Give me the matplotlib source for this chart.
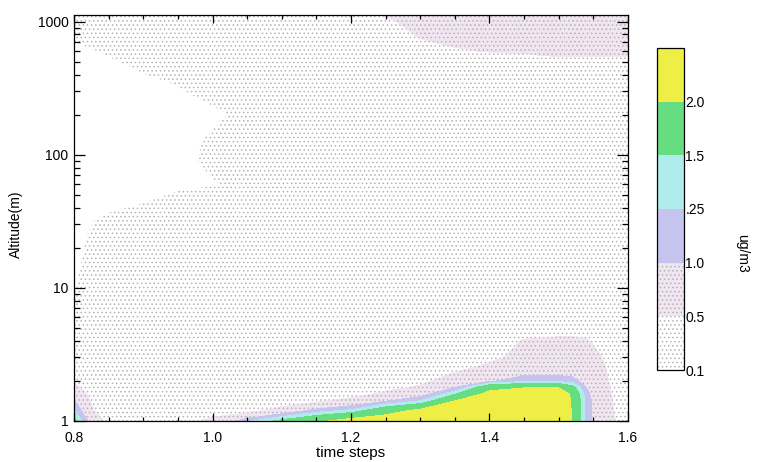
import numpy as np
import matplotlib
matplotlib.use("Agg")
import matplotlib.pyplot as plt
from matplotlib.ticker import FixedLocator, FixedFormatter, MultipleLocator, LogLocator, NullFormatter

plt.rcParams['font.family'] = ['Liberation Sans', 'DejaVu Sans']
plt.rcParams['hatch.color'] = '#b4b4b4'
plt.rcParams['hatch.linewidth'] = 0.6

# grid
time_steps = [0.80, 0.83, 0.86, 0.90, 0.95, 1.00, 1.05, 1.10, 1.15, 1.20, 1.25,
              1.30, 1.35, 1.40, 1.45, 1.50, 1.52, 1.54, 1.56, 1.58, 1.60]
altitude = [1.0, 1.2, 1.4, 1.6, 1.8, 2.0, 2.5, 3.0, 4.0, 5.0, 7.0, 10, 15, 25,
            40, 60, 90, 130, 200, 300, 450, 600, 800, 1000, 1120]

# one vertical profile (ug/m3) per time step, bottom to top
c_080 = [1.60, 1.27, 1.05, 0.85, 0.60, 0.45, 0.30, 0.25, 0.25, 0.24, 0.18, 0.08, 0.05, 0.05, 0.05, 0.05, 0.05, 0.05, 0.05, 0.05, 0.05, 0.05, 0.15, 0.22, 0.25]
c_083 = [0.70, 0.48, 0.35, 0.28, 0.25, 0.25, 0.25, 0.25, 0.25, 0.25, 0.25, 0.25, 0.20, 0.13, 0.07, 0.05, 0.05, 0.05, 0.05, 0.05, 0.05, 0.095, 0.20, 0.25, 0.28]
c_086 = [0.25, 0.25, 0.25, 0.25, 0.25, 0.25, 0.25, 0.25, 0.25, 0.25, 0.25, 0.25, 0.24, 0.20, 0.09, 0.05, 0.05, 0.05, 0.05, 0.05, 0.07, 0.14, 0.22, 0.25, 0.28]
c_090 = [0.25, 0.25, 0.25, 0.25, 0.25, 0.25, 0.25, 0.25, 0.25, 0.25, 0.25, 0.25, 0.25, 0.25, 0.11, 0.05, 0.05, 0.05, 0.05, 0.05, 0.12, 0.20, 0.25, 0.26, 0.28]
c_095 = [0.35, 0.25, 0.25, 0.25, 0.25, 0.25, 0.25, 0.25, 0.25, 0.25, 0.25, 0.25, 0.25, 0.25, 0.16, 0.07, 0.05, 0.05, 0.05, 0.08, 0.18, 0.24, 0.26, 0.27, 0.30]
c_100 = [0.60, 0.30, 0.25, 0.25, 0.25, 0.25, 0.25, 0.25, 0.25, 0.25, 0.25, 0.25, 0.25, 0.25, 0.20, 0.09, 0.14, 0.12, 0.06, 0.18, 0.24, 0.26, 0.28, 0.30, 0.32]
c_105 = [1.20, 0.30, 0.25, 0.25, 0.25, 0.25, 0.25, 0.25, 0.25, 0.25, 0.25, 0.25, 0.25, 0.25, 0.25, 0.15, 0.20, 0.20, 0.15, 0.25, 0.26, 0.28, 0.30, 0.33, 0.35]
c_110 = [1.60, 0.70, 0.20, 0.25, 0.25, 0.25, 0.25, 0.25, 0.25, 0.25, 0.25, 0.25, 0.25, 0.25, 0.25, 0.25, 0.25, 0.25, 0.25, 0.25, 0.26, 0.29, 0.32, 0.35, 0.37]
c_115 = [1.90, 1.10, 0.45, 0.25, 0.25, 0.25, 0.25, 0.25, 0.25, 0.25, 0.25, 0.25, 0.25, 0.25, 0.25, 0.25, 0.25, 0.25, 0.25, 0.25, 0.27, 0.30, 0.33, 0.37, 0.40]
c_120 = [2.20, 1.30, 0.70, 0.30, 0.25, 0.25, 0.25, 0.25, 0.25, 0.25, 0.25, 0.25, 0.25, 0.25, 0.25, 0.25, 0.25, 0.25, 0.25, 0.25, 0.27, 0.30, 0.35, 0.38, 0.42]
c_125 = [2.25, 1.80, 1.02, 0.60, 0.35, 0.28, 0.25, 0.25, 0.25, 0.25, 0.25, 0.25, 0.25, 0.25, 0.25, 0.25, 0.25, 0.25, 0.25, 0.25, 0.28, 0.33, 0.38, 0.45, 0.52]
c_130 = [2.30, 2.10, 1.30, 0.80, 0.55, 0.40, 0.30, 0.26, 0.25, 0.25, 0.25, 0.25, 0.25, 0.25, 0.25, 0.25, 0.25, 0.25, 0.25, 0.25, 0.30, 0.42, 0.53, 0.60, 0.65]
c_135 = [2.35, 2.25, 2.05, 1.45, 0.95, 0.70, 0.40, 0.30, 0.26, 0.25, 0.25, 0.25, 0.25, 0.25, 0.25, 0.25, 0.25, 0.25, 0.25, 0.25, 0.35, 0.48, 0.58, 0.65, 0.70]
c_140 = [2.40, 2.35, 2.30, 2.15, 1.80, 0.95, 0.60, 0.40, 0.30, 0.26, 0.25, 0.25, 0.25, 0.25, 0.25, 0.25, 0.25, 0.25, 0.25, 0.25, 0.35, 0.51, 0.60, 0.67, 0.72]
c_145 = [2.40, 2.40, 2.35, 2.30, 1.95, 1.15, 0.75, 0.65, 0.52, 0.35, 0.28, 0.25, 0.25, 0.25, 0.25, 0.25, 0.25, 0.25, 0.25, 0.25, 0.33, 0.54, 0.62, 0.68, 0.72]
c_150 = [2.40, 2.40, 2.35, 2.30, 1.95, 1.15, 0.75, 0.65, 0.55, 0.38, 0.28, 0.25, 0.25, 0.25, 0.25, 0.25, 0.25, 0.25, 0.25, 0.25, 0.33, 0.60, 0.65, 0.70, 0.72]
c_152 = [1.95, 1.95, 1.95, 1.90, 1.60, 1.10, 0.75, 0.65, 0.55, 0.38, 0.28, 0.25, 0.25, 0.25, 0.25, 0.25, 0.25, 0.25, 0.25, 0.25, 0.33, 0.60, 0.65, 0.70, 0.72]
c_154 = [1.15, 1.15, 1.15, 1.10, 0.98, 0.85, 0.70, 0.62, 0.53, 0.36, 0.27, 0.25, 0.25, 0.25, 0.25, 0.25, 0.25, 0.25, 0.25, 0.25, 0.33, 0.60, 0.65, 0.70, 0.72]
c_156 = [0.70, 0.70, 0.70, 0.68, 0.65, 0.62, 0.58, 0.52, 0.40, 0.30, 0.25, 0.25, 0.25, 0.25, 0.25, 0.25, 0.25, 0.25, 0.25, 0.25, 0.33, 0.60, 0.65, 0.70, 0.72]
c_158 = [0.52, 0.49, 0.48, 0.46, 0.44, 0.42, 0.38, 0.34, 0.30, 0.27, 0.25, 0.25, 0.25, 0.25, 0.25, 0.25, 0.25, 0.25, 0.25, 0.25, 0.33, 0.60, 0.65, 0.70, 0.72]
c_160 = [0.30, 0.28, 0.27, 0.26, 0.25, 0.25, 0.25, 0.25, 0.25, 0.25, 0.25, 0.25, 0.25, 0.25, 0.25, 0.25, 0.25, 0.25, 0.25, 0.25, 0.33, 0.60, 0.65, 0.70, 0.72]

profiles = [c_080, c_083, c_086, c_090, c_095, c_100, c_105, c_110, c_115, c_120, c_125,
            c_130, c_135, c_140, c_145, c_150, c_152, c_154, c_156, c_158, c_160]
conc = np.array(profiles).T

levels = [0.1, 0.5, 1.0, 1.25, 1.5, 2.0, 2.5]
level_labels = ['0.1', '0.5', '1.0', '.25', '1.5', '2.0', '']
band_colors = ['#ffffff', '#f2e5f2', '#c4c4ee', '#b0ecec', '#66dd80', '#eeee44']
band_hatches = ['....', '....', None, None, None, None]

fig = plt.figure(figsize=(7.61, 4.62), dpi=100)
ax = fig.add_axes([74 / 761, 41 / 462, 554 / 761, 406 / 462])

cs = ax.contourf(time_steps, altitude, conc, levels=levels,
                 colors=band_colors, hatches=band_hatches)
ax.set_yscale('log')
ax.set_xlim(0.8, 1.6)
ax.set_ylim(1, 1120)

ax.xaxis.set_major_locator(FixedLocator([0.8, 1.0, 1.2, 1.4, 1.6]))
ax.xaxis.set_major_formatter(FixedFormatter(['0.8', '1.0', '1.2', '1.4', '1.6']))
ax.xaxis.set_minor_locator(MultipleLocator(0.05))
ax.yaxis.set_major_locator(FixedLocator([1, 10, 100, 1000]))
ax.yaxis.set_major_formatter(FixedFormatter(['1', '10', '100', '1000']))
ax.yaxis.set_minor_locator(LogLocator(base=10, subs=np.arange(2, 10)))
ax.yaxis.set_minor_formatter(NullFormatter())

ax.tick_params(which='both', direction='in', top=True, right=True, width=0.9, colors='black')
ax.tick_params(axis='y', which='major', length=8, pad=4, labelsize=10)
ax.tick_params(axis='y', which='minor', length=4.5)
ax.tick_params(axis='x', which='major', length=6, pad=7, labelsize=10)
ax.tick_params(axis='x', which='minor', length=3)
for s in ax.spines.values():
    s.set_linewidth(0.9)

ax.set_xlabel('time steps', fontsize=11, va='top')
ax.xaxis.set_label_coords(0.5, -0.062)
ax.set_ylabel('Altitude(m)', fontsize=10)
ax.yaxis.set_label_coords(-0.092, 0.485)

cax = fig.add_axes([657 / 761, 92 / 462, 27 / 761, 322 / 462])
cb = fig.colorbar(cs, cax=cax, spacing='uniform', ticks=levels)
# keep the colorbar dots the same light grey as the plot
for p in cb.solids_patches:
    p.set_edgecolor('#b4b4b4')
    p.set_linewidth(0)
cb.ax.set_yticklabels(level_labels)
cb.ax.tick_params(length=0, labelsize=10, pad=1)
cb.outline.set_linewidth(0.9)
fig.text(742 / 761, 1 - 253 / 462, 'ug/m3', rotation=270, ha='center', va='center', fontsize=10)

fig.savefig('out.png', dpi=100)
